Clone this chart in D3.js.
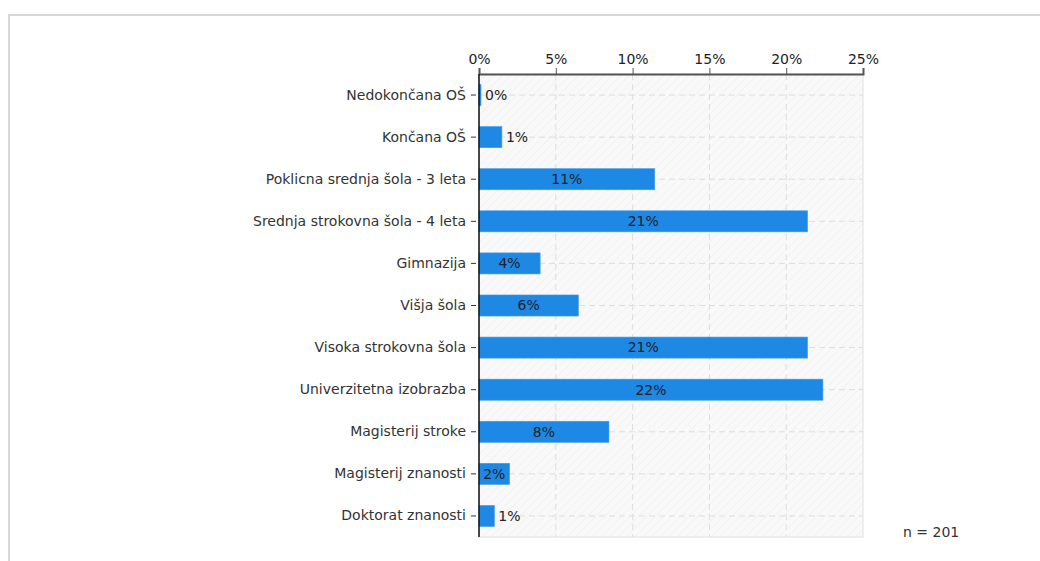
<!DOCTYPE html>
<html>
<head>
<meta charset="utf-8">
<script src="https://cdn.jsdelivr.net/npm/d3@7"></script>
<style>
  body { margin: 0; background: #fff; }
  svg { font-family: "DejaVu Sans", Verdana, sans-serif; }
</style>
</head>
<body>
<script>
// Width and height
var w = 1040;
var h = 561;

// categories (top to bottom)
var categories = ["Nedokončana OŠ", "Končana OŠ", "Poklicna srednja šola - 3 leta",
  "Srednja strokovna šola - 4 leta", "Gimnazija", "Višja šola", "Visoka strokovna šola",
  "Univerzitetna izobrazba", "Magisterij stroke", "Magisterij znanosti", "Doktorat znanosti"];

// shares in % (n = 201)
var values = [0, 1.49, 11.44, 21.39, 3.98, 6.47, 21.39, 22.39, 8.46, 1.99, 1.0];

var tickValues = [0, 5, 10, 15, 20, 25];
var nLabel = "n = 201";

var fontSize = "14px";

// plot area edges (note: "top" is reserved by window, so use p*)
var pLeft = 479, pRight = 863, pTop = 74, pBottom = 537;

var xScale = d3.scaleLinear()
  .domain([0, 25])
  .range([pLeft, pRight]);

var yScale = d3.scaleBand()
  .domain(categories)
  .range([pTop, pBottom])
  .paddingInner(0.5)
  .paddingOuter(0.25);

var svg = d3.select("body")
  .append("svg")
  .attr("width", w)
  .attr("height", h);

// outer frame
svg.append("path")
  .attr("d", "M9," + h + "V15H" + w)
  .attr("fill", "none")
  .attr("stroke", "#d8d8d8")
  .attr("stroke-width", 2);

// hatch pattern for plot area
var defs = svg.append("defs");
var pat = defs.append("pattern")
  .attr("id", "hatch")
  .attr("patternUnits", "userSpaceOnUse")
  .attr("width", 6)
  .attr("height", 6)
  .attr("patternTransform", "rotate(45)");
pat.append("rect").attr("width", 6).attr("height", 6).attr("fill", "#f9f9f9");
pat.append("line").attr("x1", 0).attr("y1", 0).attr("x2", 0).attr("y2", 6)
  .attr("stroke", "#eeeeee").attr("stroke-width", 1.2);

svg.append("rect")
  .attr("x", pLeft)
  .attr("y", pTop)
  .attr("width", pRight - pLeft)
  .attr("height", pBottom - pTop)
  .attr("fill", "url(#hatch)")
  .attr("stroke", "#e0e0e0");

// vertical grid
svg.selectAll("line.vgrid")
  .data(tickValues.slice(1, -1))
  .enter()
  .append("line")
  .attr("class", "vgrid")
  .attr("x1", function(d) { return xScale(d); })
  .attr("x2", function(d) { return xScale(d); })
  .attr("y1", pTop)
  .attr("y2", pBottom)
  .attr("stroke", "#dddddd")
  .attr("stroke-dasharray", "6,4");

// horizontal grid
svg.selectAll("line.hgrid")
  .data(categories)
  .enter()
  .append("line")
  .attr("class", "hgrid")
  .attr("x1", pLeft)
  .attr("x2", pRight)
  .attr("y1", function(d) { return yScale(d) + yScale.bandwidth() / 2; })
  .attr("y2", function(d) { return yScale(d) + yScale.bandwidth() / 2; })
  .attr("stroke", "#dddddd")
  .attr("stroke-dasharray", "6,4");

// bars
svg.selectAll("rect.bar")
  .data(values)
  .enter()
  .append("rect")
  .attr("class", "bar")
  .attr("x", xScale(0))
  .attr("y", function(d, i) { return yScale(categories[i]); })
  .attr("width", function(d) { return Math.max(2, xScale(d) - xScale(0)); })
  .attr("height", yScale.bandwidth())
  .attr("fill", "#1e88e5")
  .attr("stroke", "#3d9bf0")
  .attr("stroke-width", 0.6);

// value labels: inside the bar when it is wide enough, else just right of it
svg.selectAll("text.val")
  .data(values)
  .enter()
  .append("text")
  .attr("class", "val")
  .text(function(d) { return Math.round(d) + "%"; })
  .attr("text-anchor", function(d) { return xScale(d) - xScale(0) > 28 ? "middle" : "start"; })
  .attr("x", function(d) {
    var bw = Math.max(2, xScale(d) - xScale(0));
    return bw > 28 ? xScale(0) + bw / 2 : xScale(0) + bw + 4;
  })
  .attr("y", function(d, i) { return yScale(categories[i]) + yScale.bandwidth() / 2; })
  .attr("dy", "0.35em")
  .attr("font-size", fontSize)
  .attr("fill", "#222");

// top axis
var xAxis = d3.axisTop(xScale)
  .tickValues(tickValues)
  .tickSize(6)
  .tickFormat(function(d) { return d + "%"; });

var gx = svg.append("g")
  .attr("transform", "translate(0," + pTop + ")")
  .call(xAxis);
gx.select(".domain").attr("stroke", "#555").attr("stroke-width", 2);
gx.selectAll(".tick line").attr("stroke", "#555");
gx.selectAll(".tick text")
  .attr("font-family", "DejaVu Sans, sans-serif")
  .attr("font-size", fontSize)
  .attr("fill", "#222")
  .attr("y", -10);

// left axis
var yAxis = d3.axisLeft(yScale)
  .tickSize(0)
  .tickPadding(13);

var gy = svg.append("g")
  .attr("transform", "translate(" + pLeft + ",0)")
  .call(yAxis);
gy.select(".domain").attr("stroke", "#111").attr("stroke-width", 1.5)
  .attr("d", "M0," + pTop + "V" + pBottom);
gy.selectAll(".tick text")
  .attr("font-family", "DejaVu Sans, sans-serif")
  .attr("font-size", fontSize)
  .attr("fill", "#333");
gy.selectAll(".tick")
  .append("line")
  .attr("x1", -8)
  .attr("x2", -3)
  .attr("stroke", "#333");

// n label
svg.append("text")
  .attr("x", 903)
  .attr("y", 537)
  .attr("font-size", fontSize)
  .attr("fill", "#333")
  .text(nLabel);
</script>
</body>
</html>
